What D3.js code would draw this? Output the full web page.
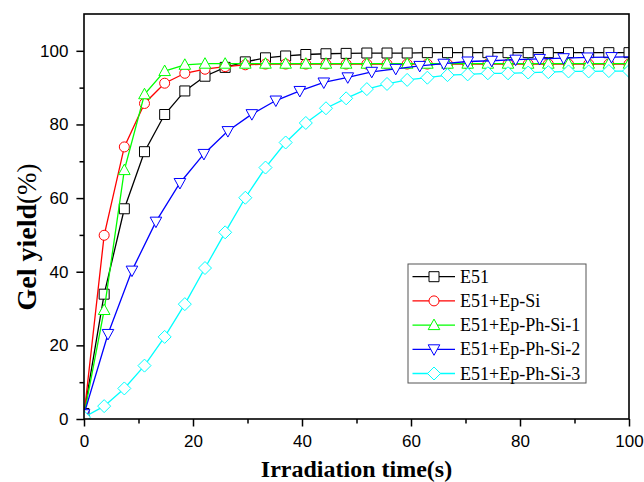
<!DOCTYPE html>
<html>
<head>
<meta charset="utf-8">
<script src="https://cdn.jsdelivr.net/npm/d3@7"></script>
<style>
  body { margin: 0; background: #fff; }
  svg { display: block; }
</style>
</head>
<body>
<div id="chart"></div>
<script>
// sample times (s)
const timesA = [0, 3.7, 7.4, 11.1, 14.8, 18.5, 22.2, 25.9, 29.6, 33.3, 37.0, 40.7, 44.4, 48.1,
  51.9, 55.6, 59.3, 63.0, 66.7, 70.4, 74.1, 77.8, 81.5, 85.2, 88.9, 92.6, 96.3, 100];
const timesB = [0, 4.4, 8.8, 13.2, 17.6, 22.0, 26.4, 30.8, 35.2, 39.6, 44.0, 48.4, 52.8, 57.2,
  61.6, 66.0, 70.4, 74.8, 79.2, 83.6, 88.0, 92.4, 96.8, 101.2];

const e51 = [1.5, 33.9, 57.1, 72.6, 82.7, 89.1, 93.1, 95.5, 97.0, 98.1, 98.6, 99.0, 99.2, 99.3,
  99.4, 99.4, 99.4, 99.5, 99.5, 99.5, 99.5, 99.5, 99.5, 99.5, 99.5, 99.5, 99.5, 99.5];
const epSi = [1.0, 49.9, 73.9, 85.7, 91.2, 93.9, 95.0, 95.7, 96.2, 96.4, 96.4, 96.4, 96.4, 96.4,
  96.4, 96.4, 96.4, 96.4, 96.4, 96.4, 96.4, 96.4, 96.4, 96.4, 96.4, 96.4, 96.4, 96.4];
const epPhSi1 = [1.0, 29.6, 67.6, 88.2, 94.5, 96.2, 96.5, 96.5, 96.5, 96.5, 96.5, 96.5, 96.5, 96.5,
  96.5, 96.5, 96.5, 96.5, 96.5, 96.5, 96.5, 96.5, 96.5, 96.5, 96.5, 96.5, 96.5, 96.5];
const epPhSi2 = [1.3, 23.1, 40.3, 53.6, 64.1, 72.0, 78.2, 82.8, 86.5, 89.1, 91.4, 92.8, 94.3, 95.1,
  95.9, 96.5, 97.1, 97.3, 97.6, 97.8, 98.0, 98.2, 98.3, 98.4];
const epPhSi3 = [0.5, 3.5, 8.3, 14.5, 22.3, 31.2, 41.0, 50.7, 60.1, 68.3, 75.1, 80.4, 84.4, 87.1,
  89.6, 91.0, 92.1, 92.7, 93.4, 93.6, 93.9, 93.9, 94.1, 94.2, 94.4, 94.4, 94.5, 94.5];

const seriesNames = ["E51", "E51+Ep-Si", "E51+Ep-Ph-Si-1", "E51+Ep-Ph-Si-2", "E51+Ep-Ph-Si-3"];
const xTicks = [0, 20, 40, 60, 80, 100];
const yTicks = [0, 20, 40, 60, 80, 100];

const series = [
  { name: seriesNames[0], t: timesA, v: e51, color: "#000000", symbol: "square" },
  { name: seriesNames[1], t: timesA, v: epSi, color: "#ff0000", symbol: "circle" },
  { name: seriesNames[2], t: timesA, v: epPhSi1, color: "#00ff00", symbol: "up" },
  { name: seriesNames[3], t: timesB, v: epPhSi2, color: "#0000ff", symbol: "down" },
  { name: seriesNames[4], t: timesA, v: epPhSi3, color: "#00ffff", symbol: "diamond" }
];

const W = 644, H = 482;
const margin = { top: 14, right: 15, bottom: 63, left: 84 };
const width = W - margin.left - margin.right,
      height = H - margin.top - margin.bottom;

const svg = d3.select("#chart").append("svg")
  .attr("width", W).attr("height", H);

const g = svg.append("g")
  .attr("transform", "translate(" + margin.left + "," + margin.top + ")");

const x = d3.scaleLinear().domain([0, 100]).range([0, width]);
const y = d3.scaleLinear().domain([0, 110]).range([height, 0]);

g.append("clipPath").attr("id", "plotclip")
  .append("rect").attr("x", 0).attr("y", 0).attr("width", width).attr("height", height);

// marker path generator, centred at 0,0
function markerPath(sym) {
  const s = 5;
  if (sym === "square") return `M${-s},${-s}H${s}V${s}H${-s}Z`;
  if (sym === "circle") return `M${-s},0A${s},${s} 0 1,0 ${s},0A${s},${s} 0 1,0 ${-s},0Z`;
  if (sym === "up") return `M0,${-6}L${5.8},${4.5}L${-5.8},${4.5}Z`;
  if (sym === "down") return `M0,${6}L${5.8},${-4.5}L${-5.8},${-4.5}Z`;
  return `M0,${-6.5}L${6.5},0L0,${6.5}L${-6.5},0Z`;
}

// ---- SERIES ----
const plot = g.append("g").attr("clip-path", "url(#plotclip)");
const line = d3.line().x(d => x(d[0])).y(d => y(d[1]));

series.forEach(s => {
  const pts = s.t.map((t, i) => [t, s.v[i]]);
  const grp = plot.append("g");
  grp.append("path")
    .datum(pts)
    .attr("d", line)
    .attr("fill", "none")
    .attr("stroke", s.color)
    .attr("stroke-width", 1.3);
  grp.selectAll("path.mk")
    .data(pts)
    .enter()
    .append("path")
    .attr("class", "mk")
    .attr("d", markerPath(s.symbol))
    .attr("transform", d => "translate(" + x(d[0]) + "," + y(d[1]) + ")")
    .attr("fill", "#fff")
    .attr("stroke", s.color)
    .attr("stroke-width", 1);
});

// ---- AXES ----
const tickFont = "'Liberation Sans', Arial, sans-serif";
const serif = "'Liberation Serif', 'Times New Roman', serif";

const xAxis = d3.axisBottom(x).tickValues(xTicks).tickSize(7.5).tickPadding(8.5)
  .tickFormat(d3.format("d"));
const yAxis = d3.axisLeft(y).tickValues(yTicks).tickSize(7.6).tickPadding(8)
  .tickFormat(d3.format("d"));

const xg = g.append("g").attr("transform", "translate(0," + height + ")").call(xAxis);
const yg = g.append("g").call(yAxis);

g.append("g").attr("transform", "translate(0," + height + ")")
  .call(d3.axisBottom(x).tickValues([10, 30, 50, 70, 90]).tickSize(4.5).tickFormat(""));
g.append("g")
  .call(d3.axisLeft(y).tickValues([10, 30, 50, 70, 90]).tickSize(4.5).tickFormat(""));

g.selectAll(".domain").remove();
g.selectAll(".tick line").attr("stroke", "#000").attr("stroke-width", 1.5);
[xg, yg].forEach(a => a.selectAll("text")
  .style("font-family", tickFont)
  .style("font-size", "17px")
  .attr("fill", "#000"));

// frame
g.append("rect")
  .attr("width", width).attr("height", height)
  .attr("fill", "none").attr("stroke", "#000").attr("stroke-width", 1.6);

// ---- TITLES ----
svg.append("text")
  .attr("x", margin.left + width / 2)
  .attr("y", 477)
  .attr("text-anchor", "middle")
  .style("font-family", serif)
  .style("font-weight", "bold")
  .style("font-size", "24px")
  .text("Irradiation time(s)");

const yt = svg.append("text")
  .attr("transform", "translate(36,237) rotate(-90)")
  .attr("text-anchor", "middle")
  .style("font-family", serif)
  .style("font-size", "28px");
yt.append("tspan").style("font-weight", "bold").text("Gel yield");
yt.append("tspan").style("font-weight", "normal").style("font-size", "27px").text("(%)");

// ---- LEGEND ----
const lg = svg.append("g").attr("transform", "translate(408,264)");
lg.append("rect")
  .attr("width", 178).attr("height", 119)
  .attr("fill", "#fff").attr("stroke", "#555").attr("stroke-width", 1);

series.forEach((s, i) => {
  const ry = 12.7 + i * 24.2;
  lg.append("line")
    .attr("x1", 4.5).attr("x2", 47).attr("y1", ry).attr("y2", ry)
    .attr("stroke", s.color).attr("stroke-width", 1.3);
  lg.append("path")
    .attr("d", markerPath(s.symbol))
    .attr("transform", "translate(26," + ry + ")")
    .attr("fill", "#fff").attr("stroke", s.color).attr("stroke-width", 1);
  lg.append("text")
    .attr("x", 52).attr("y", ry + 6)
    .style("font-family", serif)
    .style("font-size", "18px")
    .text(s.name);
});
</script>
</body>
</html>
